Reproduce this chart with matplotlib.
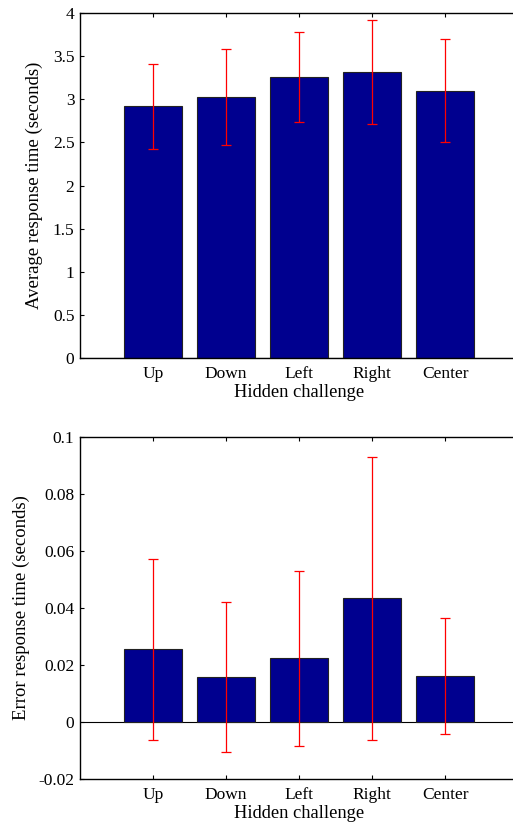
import matplotlib
matplotlib.use('Agg')
import matplotlib.pyplot as plt

challenges = ["Up", "Down", "Left", "Right", "Center"]
avg_time = [2.92, 3.03, 3.26, 3.32, 3.10]
avg_err = [0.49, 0.56, 0.52, 0.60, 0.60]
err_time = [0.0256, 0.0158, 0.0224, 0.0434, 0.0161]
err_err = [0.0317, 0.0262, 0.0306, 0.0495, 0.0203]

plt.rcParams['font.family'] = 'Liberation Serif'
plt.rcParams['font.size'] = 12.5

bar_color = '#00008F'
x = list(range(1, len(challenges) + 1))

fig = plt.figure(figsize=(5.13, 8.23), dpi=100)
ax1 = fig.add_axes([0.156, 0.565, 0.854, 0.419])
ax2 = fig.add_axes([0.156, 0.0531, 0.854, 0.4163])


def draw(ax, vals, errs, ylim, ticks, ylabel, ylab_x):
    ax.bar(x, vals, width=0.8, color=bar_color, edgecolor='#222222', linewidth=0.8, zorder=2)
    ax.errorbar(x, vals, yerr=errs, fmt='none', ecolor='red', elinewidth=0.9,
                capsize=3.5, capthick=0.9, zorder=3)
    ax.axhline(0, color='black', linewidth=0.8, zorder=1)
    ax.set_xlim(0, 6)
    ax.set_ylim(*ylim)
    ax.set_yticks(ticks)
    ax.set_yticklabels(["%g" % t for t in ticks])
    ax.set_xticks(x)
    ax.set_xticklabels(challenges)
    ax.tick_params(direction='in', length=3, width=0.8, top=True, right=True, pad=5.5)
    ax.tick_params(axis='y', pad=4)
    for s in ax.spines.values():
        s.set_linewidth(1.0)
    ax.set_xlabel("Hidden challenge", fontsize=13.3)
    ax.xaxis.set_label_coords(0.5, -0.075)
    ax.set_ylabel(ylabel, fontsize=13.5)
    ax.yaxis.set_label_coords(ylab_x, 0.5)


draw(ax1, avg_time, avg_err, (0, 4), [0, 0.5, 1, 1.5, 2, 2.5, 3, 3.5, 4],
     "Average response time (seconds)", -0.084)
draw(ax2, err_time, err_err, (-0.02, 0.1), [-0.02, 0, 0.02, 0.04, 0.06, 0.08, 0.1],
     "Error response time (seconds)", -0.114)

fig.savefig("out.png", dpi=100)
